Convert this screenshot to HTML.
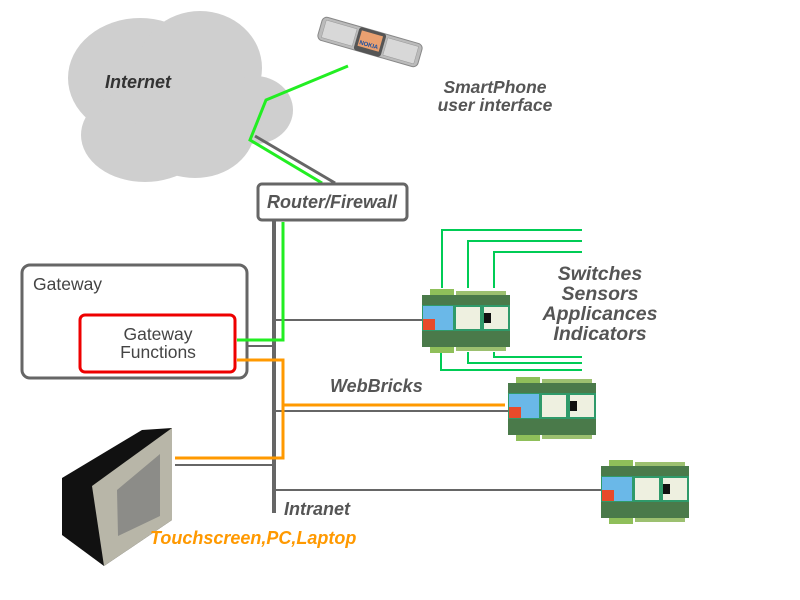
<!DOCTYPE html>
<html><head><meta charset="utf-8"><style>
html,body{margin:0;padding:0;background:#fff;}
svg{display:block;}
text{font-family:"Liberation Sans",sans-serif;font-weight:bold;font-style:italic;}
</style></head><body>
<svg width="800" height="600" viewBox="0 0 800 600">
<g fill="#cfcfcf">
  <ellipse cx="140" cy="78" rx="72" ry="60"/>
  <ellipse cx="200" cy="68" rx="62" ry="57"/>
  <ellipse cx="255" cy="110" rx="38" ry="34"/>
  <ellipse cx="145" cy="135" rx="64" ry="47"/>
  <ellipse cx="195" cy="128" rx="60" ry="50"/>
</g>
<text x="105" y="88" font-size="18" fill="#333">Internet</text>

<g transform="translate(370,42) rotate(16)">
  <rect x="-52" y="-12" width="104" height="24" rx="5" fill="#bbb" stroke="#888"/>
  <rect x="-48" y="-9" width="32" height="18" fill="#d8d8d8" stroke="#999" stroke-width="0.5"/>
  <rect x="16" y="-9" width="32" height="18" fill="#d8d8d8" stroke="#999" stroke-width="0.5"/>
  <rect x="-14" y="-12" width="28" height="24" rx="3" fill="#555"/>
  <rect x="-11" y="-9" width="22" height="16" fill="#e9a070"/>
  <text x="-10" y="5" font-size="6" fill="#1a4fa0" style="font-style:normal">NOKIA</text>
</g>
<text x="495" y="93" font-size="17.5" fill="#555" text-anchor="middle">SmartPhone</text>
<text x="495" y="111" font-size="17.5" fill="#555" text-anchor="middle">user interface</text>

<polyline points="255,136 335,183" fill="none" stroke="#666" stroke-width="3"/>
<polyline points="348,66 266,100 250,140 322,183" fill="none" stroke="#22ee22" stroke-width="3"/>

<rect x="258" y="184" width="149" height="36" rx="4" fill="#fff" stroke="#666" stroke-width="3"/>
<text x="332" y="208" font-size="18" fill="#555" text-anchor="middle">Router/Firewall</text>

<rect x="22" y="265" width="225" height="113" rx="8" fill="#fff" stroke="#666" stroke-width="3"/>
<text x="33" y="290" font-size="17.5" fill="#444" style="font-style:normal;font-weight:normal">Gateway</text>
<rect x="80" y="315" width="155" height="57" rx="5" fill="#fff" stroke="#ee0000" stroke-width="3"/>
<text x="158" y="340" font-size="17.5" fill="#444" text-anchor="middle" style="font-style:normal;font-weight:normal">Gateway</text>
<text x="158" y="358" font-size="17.5" fill="#444" text-anchor="middle" style="font-style:normal;font-weight:normal">Functions</text>

<g stroke="#666" fill="none">
  <line x1="274" y1="220" x2="274" y2="513" stroke-width="4"/>
  <line x1="276" y1="320" x2="424" y2="320" stroke-width="2"/>
  <line x1="247" y1="346" x2="274" y2="346" stroke-width="2"/>
  <line x1="276" y1="411" x2="508" y2="411" stroke-width="2"/>
  <line x1="175" y1="465" x2="274" y2="465" stroke-width="2"/>
  <line x1="276" y1="490" x2="603" y2="490" stroke-width="2"/>
</g>
<polyline points="283,222 283,340 237,340" fill="none" stroke="#22ee22" stroke-width="3"/>
<g stroke="#ff9900" stroke-width="3" fill="none">
  <polyline points="237,360 283,360 283,458 175,458"/>
  <line x1="283" y1="405" x2="505" y2="405"/>
</g>

<g stroke="#00cc55" stroke-width="2" fill="none">
  <polyline points="442,288 442,230 582,230"/>
  <polyline points="468,288 468,241 582,241"/>
  <polyline points="494,288 494,252 582,252"/>
  <polyline points="494,352 494,357 582,357"/>
  <polyline points="468,352 468,363 582,363"/>
  <polyline points="441,352 441,370 582,370"/>
</g>

<defs>
<g id="brick">
  <rect x="8" y="0" width="24" height="6" fill="#8fbf5a"/>
  <rect x="34" y="2" width="50" height="4" fill="#9cc070"/>
  <rect x="0" y="6" width="88" height="52" fill="#4a7a4a"/>
  <rect x="0" y="16" width="88" height="26" fill="#2f9a6a"/>
  <rect x="1" y="17" width="30" height="24" fill="#6ab8e8"/>
  <rect x="1" y="30" width="12" height="11" fill="#e84a2a"/>
  <rect x="34" y="18" width="24" height="22" fill="#eef0e0"/>
  <rect x="62" y="18" width="24" height="22" fill="#eef0e0"/>
  <rect x="62" y="24" width="7" height="10" fill="#111"/>
  <rect x="8" y="58" width="24" height="6" fill="#8fbf5a"/>
  <rect x="34" y="58" width="50" height="4" fill="#9cc070"/>
</g>
</defs>
<use href="#brick" x="422" y="289"/>
<use href="#brick" x="508" y="377"/>
<use href="#brick" x="601" y="460"/>

<g font-size="19.5" fill="#555" text-anchor="middle">
  <text x="600" y="280">Switches</text>
  <text x="600" y="300">Sensors</text>
  <text x="600" y="320">Applicances</text>
  <text x="600" y="340">Indicators</text>
</g>
<text x="330" y="392" font-size="18" fill="#555">WebBricks</text>
<text x="284" y="515" font-size="18" fill="#555">Intranet</text>

<g>
  <polygon points="62,478 142,430 172,428 172,520 104,566 62,535" fill="#111"/>
  <polygon points="92,486 172,428 172,520 104,566" fill="#b8b6a8"/>
  <polygon points="117,490 160,454 160,516 118,536" fill="#8c8c88"/>
</g>
<text x="150" y="544" font-size="18" fill="#ff9900">Touchscreen,PC,Laptop</text>
</svg>
</body></html>
